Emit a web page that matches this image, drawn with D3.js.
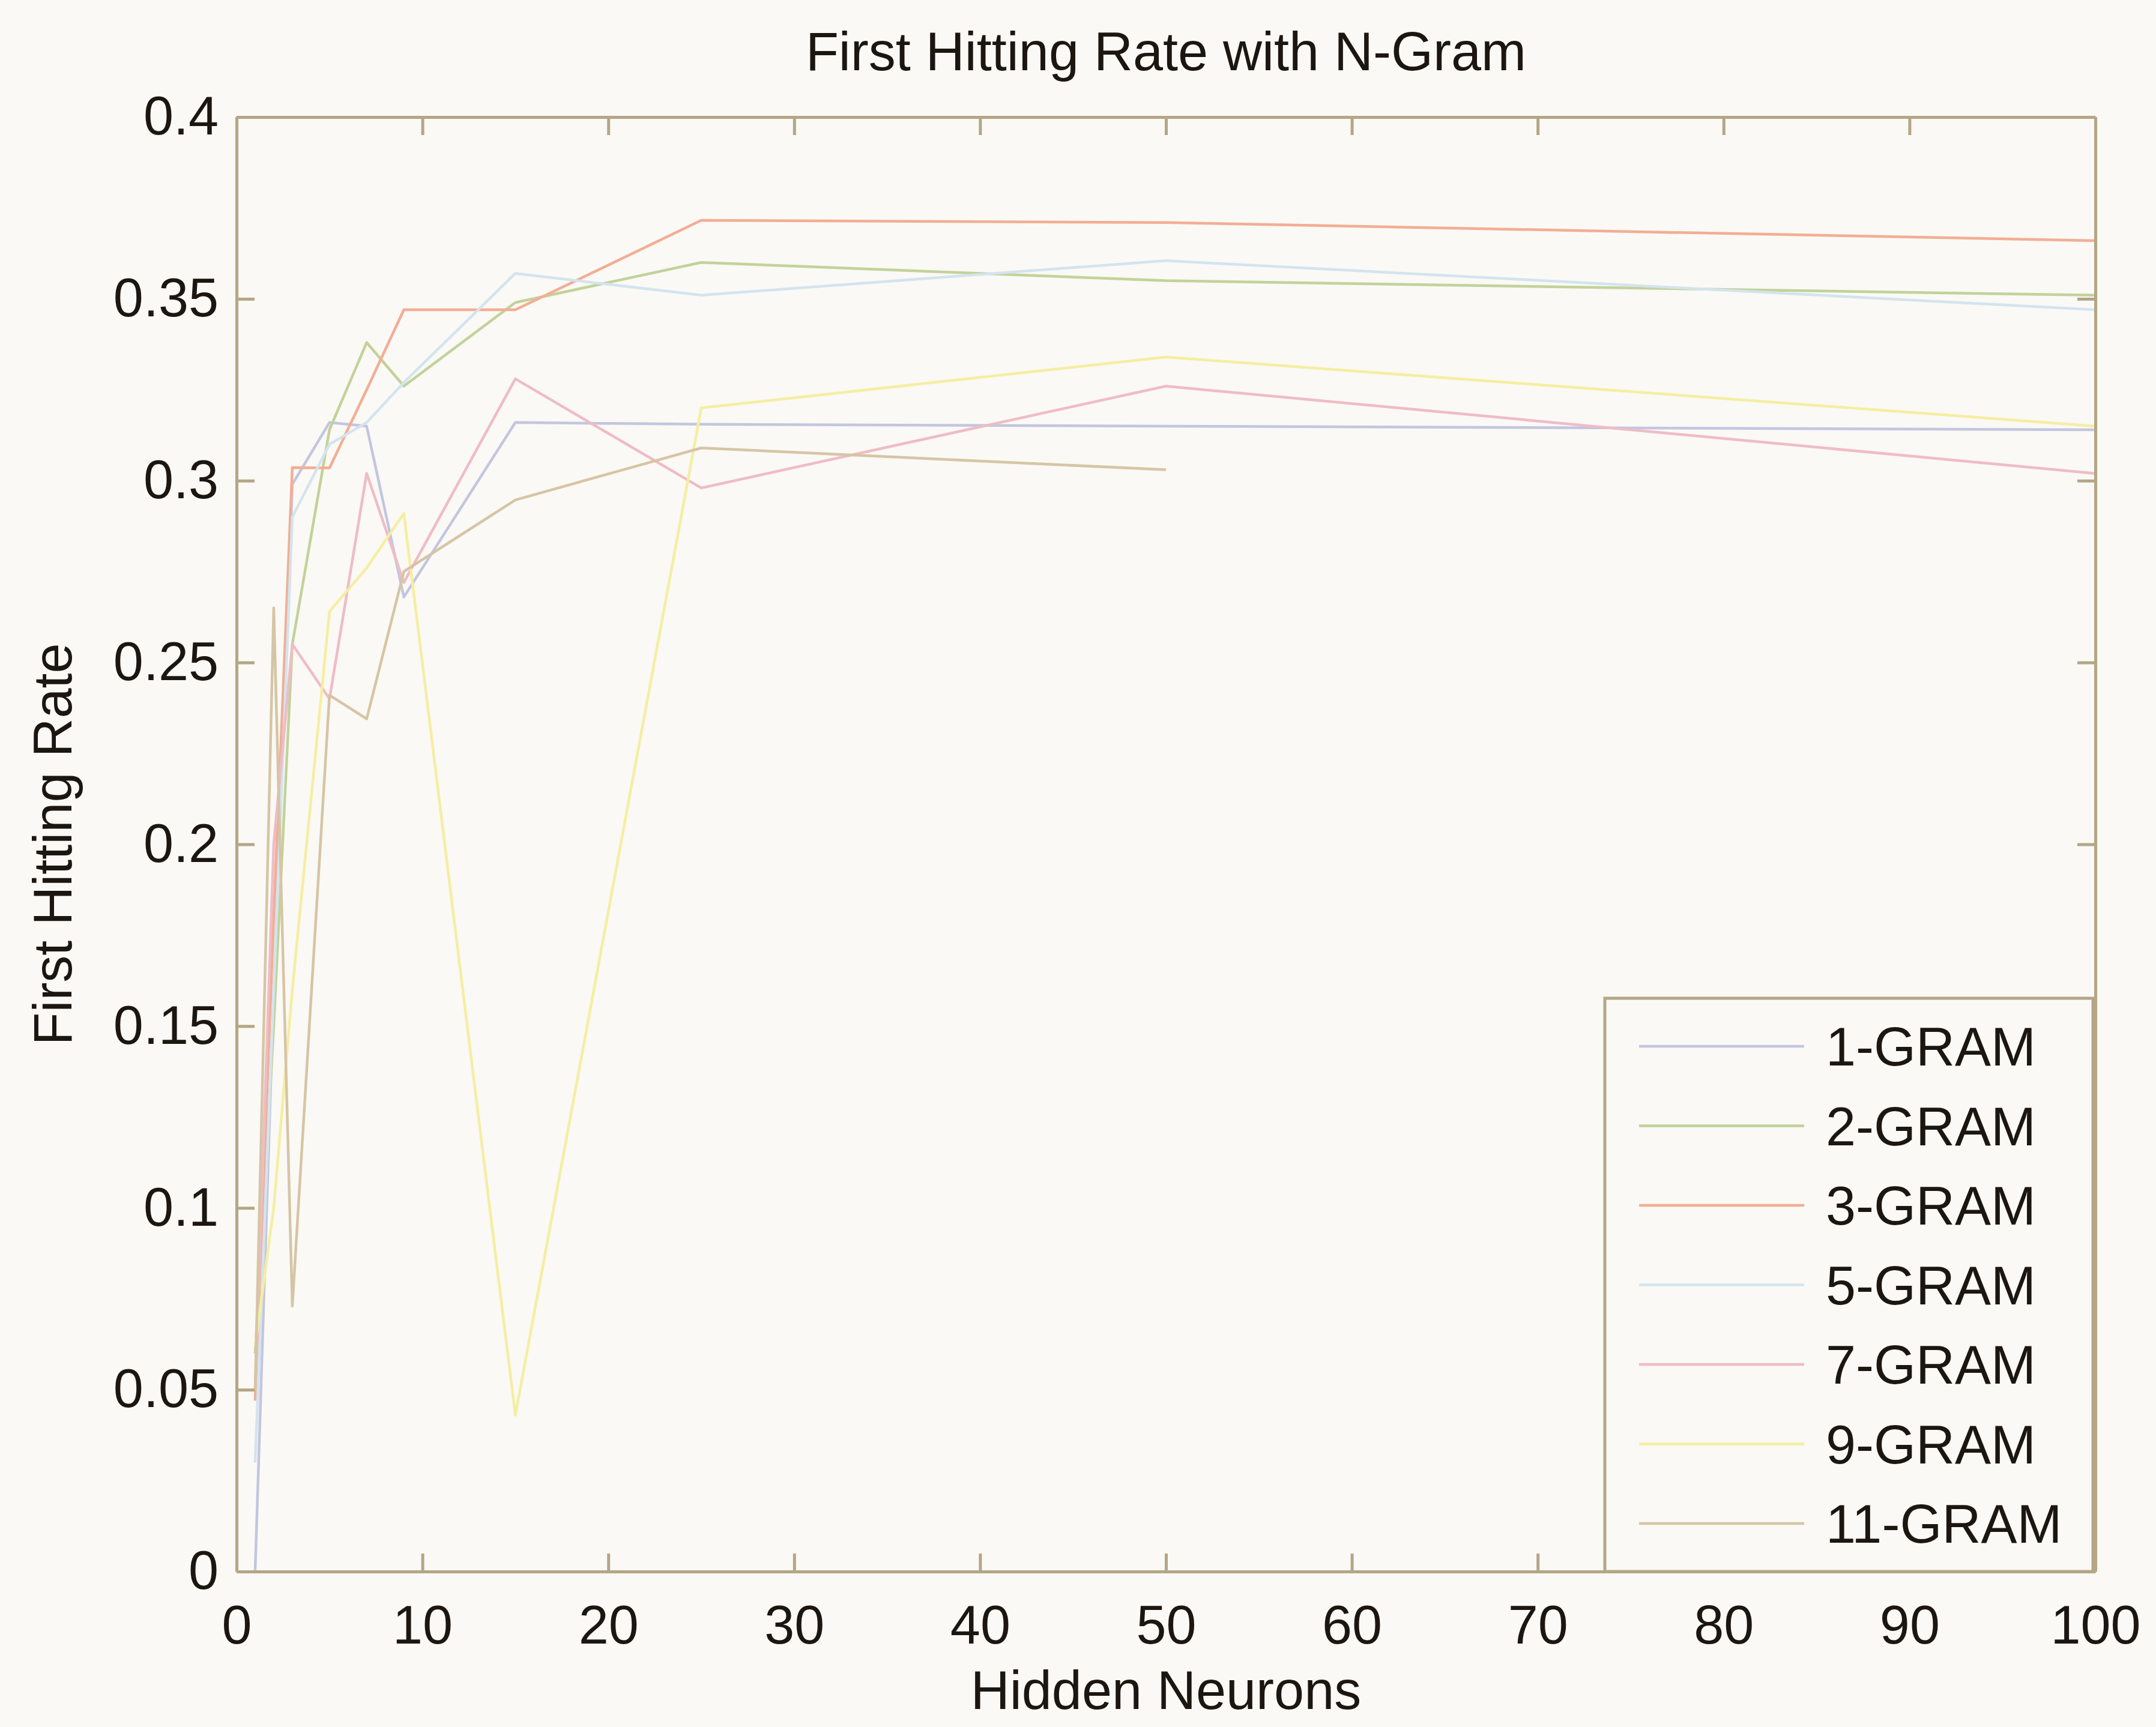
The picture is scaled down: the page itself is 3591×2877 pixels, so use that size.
<!DOCTYPE html>
<html lang="en">
<head>
  <meta charset="UTF-8">
  <title>First Hitting Rate with N-Gram</title>
  <style>
    body { margin: 0; background: #faf9f5; }
    svg { display: block; }
    text { font-family: "Liberation Sans", Arial, sans-serif; fill: #1c1611; }
    .axis path, .axis line { stroke: #b4a686; stroke-width: 5; }
  </style>
</head>
<body>
<div id="chart"></div>

<script src="https://cdn.jsdelivr.net/npm/d3@7"></script>
<script>
  // data
  const hiddenNeurons = [1, 2, 3, 5, 7, 9, 15, 25, 50, 100];
  const seriesNames = ["1-GRAM", "2-GRAM", "3-GRAM", "5-GRAM", "7-GRAM", "9-GRAM", "11-GRAM"];
  const gram1  = [0.000, 0.160, 0.299, 0.316, 0.315, 0.268, 0.316, 0.3155, 0.315, 0.314];
  const gram2  = [0.060, 0.150, 0.255, 0.314, 0.338, 0.326, 0.349, 0.360, 0.355, 0.351];
  const gram3  = [0.047, 0.180, 0.3036, 0.3035, 0.325, 0.347, 0.347, 0.3716, 0.371, 0.366];
  const gram5  = [0.030, 0.160, 0.290, 0.310, 0.316, 0.327, 0.357, 0.351, 0.3605, 0.347];
  const gram7  = [0.050, 0.200, 0.255, 0.240, 0.302, 0.272, 0.328, 0.298, 0.326, 0.302];
  const gram9  = [0.062, 0.100, 0.160, 0.264, 0.276, 0.291, 0.043, 0.320, 0.334, 0.315];
  const gram11 = [0.050, 0.265, 0.073, 0.241, 0.2345, 0.275, 0.2947, 0.309, 0.303, null];
  const seriesValues = [gram1, gram2, gram3, gram5, gram7, gram9, gram11];
  const seriesColors = ["#c3c6df", "#c2d29a", "#f2ae94", "#d3e4ee", "#efbcc6", "#f5eea2", "#d6c5a5"];

  const xTicks = [0, 10, 20, 30, 40, 50, 60, 70, 80, 90, 100];
  const yTicks = [0, 0.05, 0.1, 0.15, 0.2, 0.25, 0.3, 0.35, 0.4];
  const yTickLabels = ["0", "0.05", "0.1", "0.15", "0.2", "0.25", "0.3", "0.35", "0.4"];

  const W = 3591, H = 2877;
  const plot = {left: 394, right: 3490, top: 195, bottom: 2618};
  const fontSize = 90, tickLen = 30;

  const svg = d3.select("#chart").append("svg")
    .attr("width", W)
    .attr("height", H);

  svg.append("rect")
    .attr("width", W).attr("height", H)
    .attr("fill", "#faf9f5");

  const x = d3.scaleLinear().domain([0, 100]).range([plot.left, plot.right]);
  const y = d3.scaleLinear().domain([0, 0.4]).range([plot.bottom, plot.top]);

  // lines
  const line = d3.line()
    .defined(d => d.v != null)
    .x(d => x(d.x))
    .y(d => y(d.v));

  seriesValues.forEach((vals, i) => {
    const pts = hiddenNeurons.map((n, j) => ({x: n, v: vals[j]}));
    svg.append("path")
      .datum(pts)
      .attr("fill", "none")
      .attr("stroke", seriesColors[i])
      .attr("stroke-width", 4.5)
      .attr("stroke-linejoin", "round")
      .attr("d", line);
  });

  // axes, ticks inward on all four sides
  svg.append("g")
    .attr("class", "axis")
    .attr("transform", "translate(0," + plot.bottom + ")")
    .call(d3.axisBottom(x).tickValues(xTicks).tickSizeInner(-tickLen).tickSizeOuter(0).tickPadding(55))
    .call(g => g.selectAll("text").attr("font-size", fontSize).attr("font-family", null).attr("fill", "#1c1611").attr("dy", "0.72em"));

  svg.append("g")
    .attr("class", "axis")
    .attr("transform", "translate(0," + plot.top + ")")
    .call(d3.axisTop(x).tickValues(xTicks).tickSizeInner(-tickLen).tickSizeOuter(0).tickFormat(""));

  svg.append("g")
    .attr("class", "axis")
    .attr("transform", "translate(" + plot.left + ",0)")
    .call(d3.axisLeft(y).tickValues(yTicks).tickSizeInner(-tickLen).tickSizeOuter(0).tickPadding(30)
      .tickFormat((d, i) => yTickLabels[i]))
    .call(g => g.selectAll("text").attr("font-size", fontSize).attr("font-family", null).attr("fill", "#1c1611"));

  svg.append("g")
    .attr("class", "axis")
    .attr("transform", "translate(" + plot.right + ",0)")
    .call(d3.axisRight(y).tickValues(yTicks).tickSizeInner(-tickLen).tickSizeOuter(0).tickFormat(""));

  svg.selectAll(".axis .domain").attr("stroke", "#b4a686").attr("stroke-width", 5);

  // titles
  svg.append("text")
    .attr("x", (plot.left + plot.right) / 2)
    .attr("y", 117)
    .attr("text-anchor", "middle")
    .attr("font-size", fontSize)
    .text("First Hitting Rate with N-Gram");

  svg.append("text")
    .attr("x", (plot.left + plot.right) / 2)
    .attr("y", 2847)
    .attr("text-anchor", "middle")
    .attr("font-size", fontSize)
    .text("Hidden Neurons");

  svg.append("text")
    .attr("transform", "translate(119," + (plot.top + plot.bottom) / 2 + ") rotate(-90)")
    .attr("text-anchor", "middle")
    .attr("font-size", fontSize)
    .text("First Hitting Rate");

  // legend
  const legend = {left: 2673, top: 1663, right: 3486, bottom: plot.bottom};
  svg.append("rect")
    .attr("x", legend.left)
    .attr("y", legend.top)
    .attr("width", legend.right - legend.left)
    .attr("height", legend.bottom - legend.top)
    .attr("fill", "#faf9f5")
    .attr("stroke", "#b4a686")
    .attr("stroke-width", 5);

  const rowY = i => 1743 + i * 132.5;
  const items = svg.selectAll(".legend-item")
    .data(seriesNames)
    .enter()
    .append("g")
    .attr("class", "legend-item")
    .attr("transform", (d, i) => "translate(0," + rowY(i) + ")");

  items.append("line")
    .attr("x1", 2730).attr("x2", 3005)
    .attr("stroke", (d, i) => seriesColors[i])
    .attr("stroke-width", 4.5);

  items.append("text")
    .attr("x", 3041)
    .attr("dy", "0.36em")
    .attr("font-size", fontSize)
    .text(d => d);
</script>
</body>
</html>
